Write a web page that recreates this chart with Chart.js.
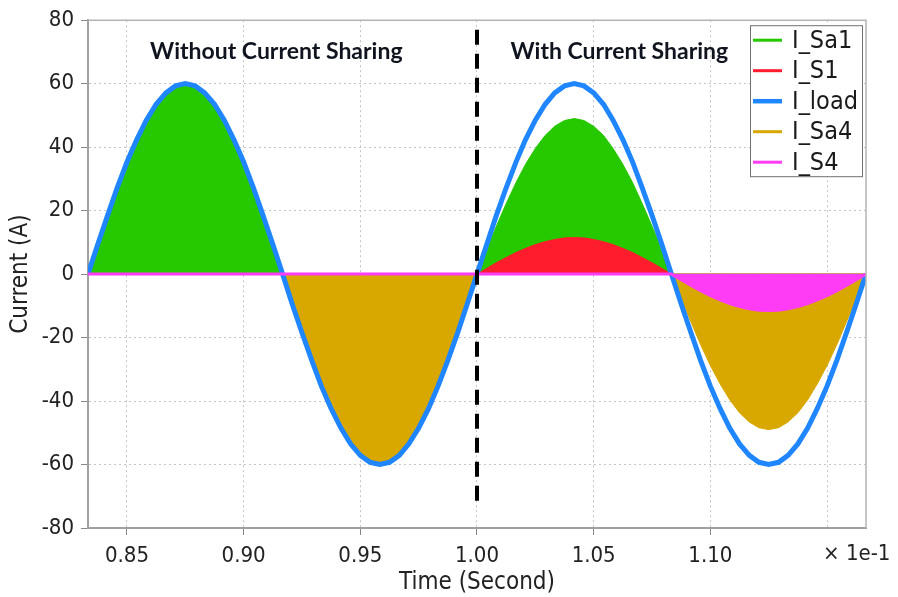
<!DOCTYPE html>
<html>
<head>
<meta charset="utf-8">
<script src="https://cdn.jsdelivr.net/npm/chart.js@4/dist/chart.umd.min.js"></script>
<style>
html,body{margin:0;padding:0;background:#fff;}
#wrap{width:898px;height:597px;position:relative;}
</style>
</head>
<body>
<div id="wrap"><canvas id="c" width="898" height="597"></canvas></div>
<script>
// Time axis (in units of 1e-1 s)
const times = [0.8333,0.8375,0.8417,0.8458,0.8500,0.8542,0.8583,0.8625,0.8667,0.8708,
  0.8750,0.8792,0.8833,0.8875,0.8917,0.8958,0.9000,0.9042,0.9083,0.9125,
  0.9167,0.9208,0.9250,0.9292,0.9333,0.9375,0.9417,0.9458,0.9500,0.9542,
  0.9583,0.9625,0.9667,0.9708,0.9750,0.9792,0.9833,0.9875,0.9917,0.9958,
  1.0000,1.0042,1.0083,1.0125,1.0167,1.0208,1.0250,1.0292,1.0333,1.0375,
  1.0417,1.0458,1.0500,1.0542,1.0583,1.0625,1.0667,1.0708,1.0750,1.0792,
  1.0833,1.0875,1.0917,1.0958,1.1000,1.1042,1.1083,1.1125,1.1167,1.1208,
  1.1250,1.1292,1.1333,1.1375,1.1417,1.1458,1.1500,1.1542,1.1583,1.1625,1.1667];

const iLoad = [0,9.4,18.5,27.2,35.3,42.4,48.5,53.5,57.1,59.3,60,59.3,57.1,53.5,48.5,42.4,35.3,27.2,18.5,9.4,
  0,-9.4,-18.5,-27.2,-35.3,-42.4,-48.5,-53.5,-57.1,-59.3,-60,-59.3,-57.1,-53.5,-48.5,-42.4,-35.3,-27.2,-18.5,-9.4,
  0,9.4,18.5,27.2,35.3,42.4,48.5,53.5,57.1,59.3,60,59.3,57.1,53.5,48.5,42.4,35.3,27.2,18.5,9.4,
  0,-9.4,-18.5,-27.2,-35.3,-42.4,-48.5,-53.5,-57.1,-59.3,-60,-59.3,-57.1,-53.5,-48.5,-42.4,-35.3,-27.2,-18.5,-9.4,0];

const iSa1 = [0,9.4,18.5,27.2,35.3,42.4,48.5,53.5,57.1,59.3,60,59.3,57.1,53.5,48.5,42.4,35.3,27.2,18.5,9.4,
  0,0,0,0,0,0,0,0,0,0,0,0,0,0,0,0,0,0,0,0,
  0,7.7,15.1,22.2,28.8,34.6,39.6,43.7,46.6,48.4,49,48.4,46.6,43.7,39.6,34.6,28.8,22.2,15.1,7.7,
  0,0,0,0,0,0,0,0,0,0,0,0,0,0,0,0,0,0,0,0,0];

const iS1 = [0,0,0,0,0,0,0,0,0,0,0,0,0,0,0,0,0,0,0,0,
  0,0,0,0,0,0,0,0,0,0,0,0,0,0,0,0,0,0,0,0,
  0,1.8,3.6,5.2,6.8,8.1,9.3,10.2,10.9,11.4,11.5,11.4,10.9,10.2,9.3,8.1,6.8,5.2,3.6,1.8,
  0,0,0,0,0,0,0,0,0,0,0,0,0,0,0,0,0,0,0,0,0];

const iSa4 = [0,0,0,0,0,0,0,0,0,0,0,0,0,0,0,0,0,0,0,0,
  0,-9.4,-18.5,-27.2,-35.3,-42.4,-48.5,-53.5,-57.1,-59.3,-60,-59.3,-57.1,-53.5,-48.5,-42.4,-35.3,-27.2,-18.5,-9.4,
  0,0,0,0,0,0,0,0,0,0,0,0,0,0,0,0,0,0,0,0,
  0,-7.7,-15.1,-22.2,-28.8,-34.6,-39.6,-43.7,-46.6,-48.4,-49,-48.4,-46.6,-43.7,-39.6,-34.6,-28.8,-22.2,-15.1,-7.7,0];

const iS4 = [0,0,0,0,0,0,0,0,0,0,0,0,0,0,0,0,0,0,0,0,
  0,0,0,0,0,0,0,0,0,0,0,0,0,0,0,0,0,0,0,0,
  0,0,0,0,0,0,0,0,0,0,0,0,0,0,0,0,0,0,0,0,
  0,-1.8,-3.6,-5.2,-6.8,-8.1,-9.3,-10.2,-10.9,-11.4,-11.5,-11.4,-10.9,-10.2,-9.3,-8.1,-6.8,-5.2,-3.6,-1.8,0];

const seriesNames = ['I_Sa1','I_S1','I_load','I_Sa4','I_S4'];
const xTicks = [0.85,0.90,0.95,1.00,1.05,1.10];
const yTicks = [-80,-60,-40,-20,0,20,40,60,80];
const xRange = [0.8333, 1.1667];
const yRange = [-80, 80];
const dividerX = 1.0;
const annotations = [
  {text:'Without Current Sharing', x:0.914, y:70},
  {text:'With Current Sharing', x:1.061, y:70}
];
const exponentLabel = '\u00d7 1e-1';

const COLORS = {
  'I_Sa1':'#26c800',
  'I_S1':'#ff1c2c',
  'I_load':'#1f86ff',
  'I_Sa4':'#d8a800',
  'I_S4':'#ff3cf5'
};
const FAMILY = "'DejaVu Sans Condensed','DejaVu Sans',sans-serif";
const TICK_FONT = {family:FAMILY, size:22};
const TITLE_FONT = {family:FAMILY, size:24};

function pts(arr){ return arr.map((v,i)=>({x:times[i], y:v})); }

const datasets = [
  {label:'I_S4', data:pts(iS4), borderColor:COLORS['I_S4'], backgroundColor:COLORS['I_S4'], borderWidth:3, fill:'origin', order:0},
  {label:'I_load', data:pts(iLoad), borderColor:COLORS['I_load'], backgroundColor:'transparent', borderWidth:5, fill:false, order:1},
  {label:'I_S1', data:pts(iS1), borderColor:COLORS['I_S1'], backgroundColor:COLORS['I_S1'], borderWidth:1, fill:'origin', order:2},
  {label:'I_Sa1', data:pts(iSa1), borderColor:COLORS['I_Sa1'], backgroundColor:COLORS['I_Sa1'], borderWidth:1, fill:'origin', order:3},
  {label:'I_Sa4', data:pts(iSa4), borderColor:COLORS['I_Sa4'], backgroundColor:COLORS['I_Sa4'], borderWidth:1, fill:'origin', order:4}
];

const overlay = {
  id:'overlay',
  afterDatasetsDraw(chart){
    const {ctx, chartArea:ca, scales:{x,y}} = chart;
    ctx.save();
    // top/right frame
    ctx.strokeStyle = '#b4b4b4'; ctx.lineWidth = 1.5;
    ctx.beginPath();
    ctx.moveTo(ca.left, ca.top); ctx.lineTo(ca.right, ca.top); ctx.lineTo(ca.right, ca.bottom);
    ctx.stroke();
    // divider
    ctx.strokeStyle = '#000'; ctx.lineWidth = 4; ctx.setLineDash([15,9]);
    ctx.beginPath();
    ctx.moveTo(x.getPixelForValue(dividerX), y.getPixelForValue(77));
    ctx.lineTo(x.getPixelForValue(dividerX), y.getPixelForValue(-74));
    ctx.stroke();
    ctx.setLineDash([]);
    // annotations
    ctx.fillStyle = '#10141e';
    ctx.font = "bold 23px Lato, 'Open Sans', sans-serif";
    ctx.textAlign = 'center'; ctx.textBaseline = 'middle';
    annotations.forEach(a => ctx.fillText(a.text, x.getPixelForValue(a.x), y.getPixelForValue(a.y)));
    // legend
    const bx = ca.right - 116, by = ca.top + 5, bw = 112, bh = 151;
    ctx.fillStyle = '#fff'; ctx.fillRect(bx, by, bw, bh);
    ctx.strokeStyle = '#707070'; ctx.lineWidth = 1; ctx.strokeRect(bx+0.5, by+0.5, bw, bh);
    ctx.font = "25px " + FAMILY;
    ctx.textAlign = 'left';
    seriesNames.forEach((n,i) => {
      const yy = by + 15 + i*30.5;
      ctx.strokeStyle = COLORS[n]; ctx.lineWidth = n === 'I_load' ? 4.5 : 3;
      ctx.beginPath(); ctx.moveTo(bx+3, yy); ctx.lineTo(bx+32, yy); ctx.stroke();
      ctx.fillStyle = '#1a1a1a'; ctx.fillText(n, bx+42, yy+1);
    });
    // exponent label
    ctx.font = "22px " + FAMILY;
    ctx.fillStyle = '#222'; ctx.textAlign = 'left';
    ctx.fillText(exponentLabel, x.getPixelForValue(1.15) - 4, ca.bottom + 26);
    ctx.restore();
  }
};

new Chart(document.getElementById('c'), {
  type:'line',
  data:{datasets},
  options:{
    responsive:false,
    animation:false,
    devicePixelRatio:1,
    layout:{padding:{top:17, right:32, left:0, bottom:0}},
    elements:{point:{radius:0}, line:{tension:0}},
    plugins:{legend:{display:false}, tooltip:{enabled:false}},
    scales:{
      x:{
        type:'linear', min:xRange[0], max:xRange[1],
        afterFit(s){ s.height = 69; },
        afterBuildTicks(s){ s.ticks = xTicks.concat([1.15]).map(v=>({value:v})); },
        ticks:{
          font:TICK_FONT, color:'#222', padding:8, maxRotation:0, autoSkip:false,
          callback(v){ return xTicks.some(t=>Math.abs(t-v)<1e-6) ? v.toFixed(2) : ''; }
        },
        grid:{color:'#c4c4c4', lineWidth:1, tickLength:7,
          tickColor(ctx){ return (ctx.tick && Math.abs(ctx.tick.value-1.15)<1e-6) ? 'rgba(0,0,0,0)' : '#888'; },
          tickBorderDash:[]},
        border:{color:'#a0a0a0', width:2, dash:[2,3]},
        title:{display:true, text:'Time (Second)', font:TITLE_FONT, color:'#222', padding:{top:0,bottom:0}}
      },
      y:{
        min:yRange[0], max:yRange[1],
        afterFit(s){ s.width = 88; },
        afterBuildTicks(s){ s.ticks = yTicks.map(v=>({value:v})); },
        ticks:{font:TICK_FONT, color:'#222', padding:7},
        grid:{color:'#c4c4c4', lineWidth:1, tickLength:7, tickColor:'#888', tickBorderDash:[]},
        border:{color:'#a0a0a0', width:2, dash:[2,3]},
        title:{display:true, text:'Current (A)', font:TITLE_FONT, color:'#222', padding:{top:6,bottom:0}}
      }
    }
  },
  plugins:[overlay]
});
</script>
</body>
</html>
